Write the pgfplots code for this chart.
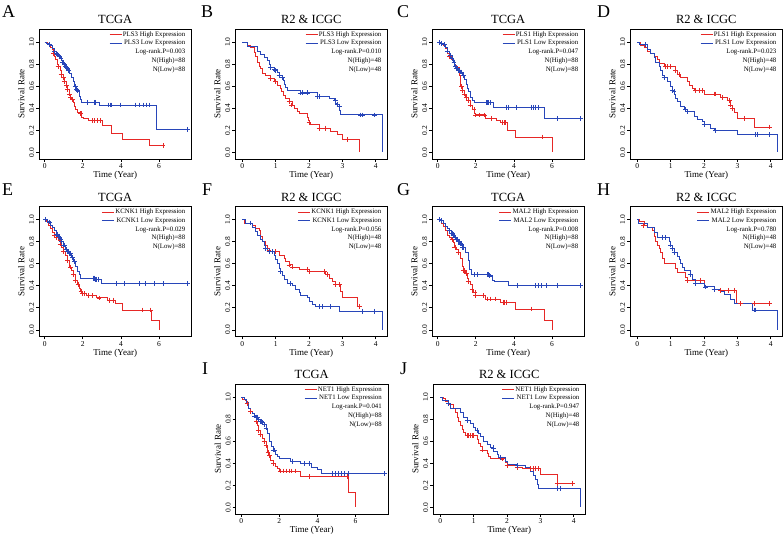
\documentclass[border=0pt]{standalone}
\usepackage{fontspec}
\setmainfont{Liberation Serif}
\usepackage{pgfplots}
\pgfplotsset{compat=1.18}
\definecolor{kmred}{RGB}{230,40,38}
\definecolor{kmblue}{RGB}{40,70,185}
\newcommand\fs[1]{\fontsize{#1}{#1}\selectfont}
\pgfplotsset{
 km/.style={
  scale only axis, width=152.5pt, height=130pt,
  ymin=-0.06, ymax=1.12,
  ytick={0,0.2,0.4,0.6,0.8,1.0},
  axis line style={line width=0.9pt, black},
  tick align=outside, xtick pos=bottom, ytick pos=left,
  major tick length=3pt, every tick/.style={line width=0.7pt, black},
  /pgf/number format/assume math mode=true,
  yticklabel style={rotate=90, anchor=south, font=\fs{7.5}, inner sep=1.5pt,
     /pgf/number format/fixed, /pgf/number format/fixed zerofill, /pgf/number format/precision=1},
  xticklabel style={font=\fs{7.5}, inner sep=1.5pt},
  xlabel={Time (Year)}, ylabel={Survival Rate},
  xlabel style={font=\fs{9}, inner sep=1pt},
  ylabel style={font=\fs{9}, inner sep=1pt},
  ylabel shift=2pt,
  title style={font=\fs{12.5}, inner sep=2.5pt, yshift=-3.5pt},
  legend cell align=right,
  legend style={at={(1,1)}, anchor=north east, xshift=-5pt, yshift=-1pt, draw=none, fill=none,
     font=\fs{6.8}, row sep=0pt, inner xsep=0pt, inner ysep=0pt,
     nodes={inner xsep=1pt, inner ysep=1.3pt}},
  legend image code/.code={\draw[#1, line width=0.9pt] (0pt,0pt) -- (12pt,0pt);},
  every axis plot/.append style={line width=0.9pt},
 },
 tcga/.style={km, xmin=-0.3, xmax=7.7, xtick={0,2,4,6}, title={TCGA}},
 r2/.style={km, xmin=-0.22, xmax=4.35, xtick={0,1,2,3,4}, title={R2 \& ICGC}},
 cens/.style={only marks, mark=+, mark size=2.4pt, forget plot, mark options={line width=0.75pt}},
}
\newcommand\kmstats[3]{%
 \addlegendimage{empty legend}\addlegendentry{Log-rank.P=#1}%
 \addlegendimage{empty legend}\addlegendentry{N(High)=#2}%
 \addlegendimage{empty legend}\addlegendentry{N(Low)=#3}}
\begin{document}
\begin{tikzpicture}
\path[use as bounding box] (0,0) rectangle (784pt,534pt);
% panel letters
\node[anchor=base west, inner sep=0, font=\fs{18}] at (2pt,516pt) {A};
\node[anchor=base west, inner sep=0, font=\fs{18}] at (201pt,516pt) {B};
\node[anchor=base west, inner sep=0, font=\fs{18}] at (397pt,516pt) {C};
\node[anchor=base west, inner sep=0, font=\fs{18}] at (597pt,516pt) {D};
\node[anchor=base west, inner sep=0, font=\fs{18}] at (2pt,338pt) {E};
\node[anchor=base west, inner sep=0, font=\fs{18}] at (202pt,338pt) {F};
\node[anchor=base west, inner sep=0, font=\fs{18}] at (397pt,338pt) {G};
\node[anchor=base west, inner sep=0, font=\fs{18}] at (597pt,338pt) {H};
\node[anchor=base west, inner sep=0, font=\fs{18}] at (202pt,159pt) {I};
\node[anchor=base west, inner sep=0, font=\fs{18}] at (400pt,159pt) {J};

% ---------- A ----------
\begin{axis}[tcga, at={(39pt,375pt)}, anchor=south west]
\addplot[kmred, const plot] coordinates {(0,1)(0.12,0.99)(0.22,0.977)(0.3,0.955)(0.38,0.93)(0.45,0.9)(0.5,0.87)(0.58,0.84)(0.65,0.8)(0.72,0.78)(0.8,0.74)(0.88,0.71)(0.97,0.68)(1.05,0.64)(1.12,0.61)(1.2,0.57)(1.28,0.53)(1.33,0.5)(1.42,0.48)(1.5,0.45)(1.56,0.42)(1.62,0.39)(1.7,0.36)(1.85,0.35)(1.95,0.32)(2.05,0.31)(2.3,0.29)(3.05,0.24)(3.5,0.17)(4.1,0.115)(5.5,0.06)(6.2,0.06)};
\addlegendentry{PLS3 High Expression}
\addplot[kmblue, const plot] coordinates {(0,1)(0.1,0.99)(0.2,0.98)(0.3,0.97)(0.4,0.94)(0.5,0.92)(0.6,0.9)(0.7,0.88)(0.8,0.86)(0.9,0.83)(1.0,0.81)(1.1,0.78)(1.2,0.76)(1.3,0.72)(1.4,0.68)(1.5,0.64)(1.55,0.6)(1.65,0.57)(1.72,0.55)(1.8,0.51)(1.88,0.48)(1.95,0.455)(2.85,0.43)(5.85,0.21)(7.5,0.21)};
\addlegendentry{PLS3 Low Expression}
\addplot[kmred, cens] coordinates {(0.46,0.9)(0.7,0.78)(0.85,0.71)(0.97,0.68)(1.02,0.64)(1.13,0.61)(1.19,0.57)(1.3,0.53)(1.36,0.5)(1.44,0.48)(1.86,0.35)(1.9,0.35)(2.5,0.29)(2.58,0.29)(2.76,0.29)(2.92,0.29)(6.2,0.06)};
\addplot[kmblue, cens] coordinates {(0.25,0.98)(0.5,0.92)(0.6,0.9)(0.65,0.89)(0.75,0.87)(0.85,0.85)(0.95,0.82)(1.05,0.8)(1.1,0.78)(1.15,0.77)(1.2,0.76)(1.25,0.74)(1.6,0.6)(1.65,0.57)(1.7,0.56)(2.25,0.455)(2.6,0.455)(2.65,0.455)(3.35,0.43)(3.42,0.43)(3.5,0.43)(3.95,0.43)(4.75,0.43)(4.95,0.43)(5.15,0.43)(5.35,0.43)(5.5,0.43)(7.5,0.21)};
\kmstats{0.003}{88}{88}
\end{axis}

% ---------- B ----------
\begin{axis}[r2, at={(235pt,375pt)}, anchor=south west]
\addplot[kmred, const plot] coordinates {(0,1)(0.15,0.97)(0.25,0.95)(0.35,0.91)(0.4,0.87)(0.45,0.82)(0.5,0.78)(0.55,0.76)(0.6,0.72)(0.7,0.7)(0.85,0.67)(0.95,0.64)(1.05,0.61)(1.13,0.58)(1.18,0.55)(1.22,0.52)(1.3,0.49)(1.4,0.46)(1.5,0.43)(1.55,0.4)(1.65,0.37)(1.7,0.35)(1.95,0.32)(1.98,0.29)(2.0,0.27)(2.05,0.25)(2.3,0.22)(2.65,0.19)(2.85,0.16)(3.0,0.12)(3.52,0)};
\addlegendentry{PLS3 High Expression}
\addplot[kmblue, const plot] coordinates {(0,1)(0.15,0.96)(0.45,0.92)(0.55,0.89)(0.65,0.86)(0.75,0.83)(0.8,0.8)(0.85,0.77)(0.95,0.75)(1.05,0.73)(1.1,0.7)(1.2,0.68)(1.23,0.65)(1.27,0.62)(1.3,0.59)(1.35,0.56)(1.75,0.54)(2.25,0.51)(2.6,0.49)(2.75,0.47)(2.8,0.44)(2.85,0.42)(2.9,0.38)(2.95,0.34)(4.2,0)};
\addlegendentry{PLS3 Low Expression}
\addplot[kmred, cens] coordinates {(0.85,0.67)(1.0,0.64)(1.4,0.46)(1.47,0.43)(2.0,0.27)(2.3,0.22)(2.5,0.22)(3.15,0.12)};
\addplot[kmblue, cens] coordinates {(0.85,0.77)(0.95,0.75)(1.0,0.74)(1.1,0.7)(1.2,0.68)(1.75,0.54)(1.8,0.54)(1.95,0.54)(2.25,0.51)(2.3,0.51)(2.8,0.47)(2.85,0.44)(2.9,0.42)(3.55,0.34)(3.6,0.34)(3.95,0.34)};
\kmstats{0.010}{48}{48}
\end{axis}

% ---------- C ----------
\begin{axis}[tcga, at={(432pt,375pt)}, anchor=south west]
\addplot[kmred, const plot] coordinates {(0,1)(0.1,0.99)(0.2,0.98)(0.3,0.97)(0.4,0.94)(0.5,0.9)(0.6,0.87)(0.7,0.84)(0.8,0.82)(0.9,0.79)(1.0,0.77)(1.15,0.7)(1.2,0.6)(1.3,0.56)(1.4,0.53)(1.47,0.5)(1.6,0.47)(1.7,0.43)(1.83,0.39)(1.92,0.35)(2.0,0.34)(2.5,0.31)(3.1,0.29)(3.3,0.27)(3.65,0.2)(4.1,0.14)(6.0,0)};
\addlegendentry{PLS1 High Expression}
\addplot[kmblue, const plot] coordinates {(0,1)(0.15,0.99)(0.3,0.98)(0.4,0.95)(0.5,0.92)(0.6,0.88)(0.7,0.85)(0.8,0.82)(0.9,0.78)(1.0,0.76)(1.1,0.74)(1.2,0.73)(1.3,0.7)(1.4,0.66)(1.5,0.62)(1.55,0.58)(1.6,0.55)(1.7,0.5)(1.8,0.47)(1.92,0.45)(2.9,0.41)(5.6,0.305)(7.5,0.305)};
\addlegendentry{PLS1 Low Expression}
\addplot[kmred, cens] coordinates {(0.6,0.87)(0.85,0.82)(1.25,0.6)(1.3,0.56)(1.4,0.53)(1.5,0.5)(1.6,0.47)(1.7,0.43)(1.9,0.39)(2.0,0.34)(2.2,0.34)(2.45,0.34)(2.8,0.31)(3.4,0.27)(3.5,0.27)(3.55,0.27)(5.5,0.14)};
\addplot[kmblue, cens] coordinates {(0.1,1)(0.2,0.99)(0.35,0.98)(0.5,0.92)(0.65,0.88)(0.75,0.85)(0.85,0.82)(0.95,0.78)(1.0,0.76)(1.05,0.76)(1.1,0.74)(1.15,0.74)(1.2,0.73)(1.25,0.73)(1.35,0.7)(2.55,0.45)(2.6,0.45)(2.65,0.45)(2.75,0.45)(3.6,0.41)(3.7,0.41)(4.1,0.41)(4.9,0.41)(5.0,0.41)(5.1,0.41)(5.3,0.41)(6.3,0.305)(7.5,0.305)};
\kmstats{0.047}{88}{88}
\end{axis}

% ---------- D ----------
\begin{axis}[r2, at={(630pt,375pt)}, anchor=south west]
\addplot[kmred, const plot] coordinates {(0,1)(0.1,0.97)(0.2,0.95)(0.3,0.92)(0.4,0.9)(0.5,0.87)(0.6,0.84)(0.65,0.81)(0.8,0.78)(1.15,0.74)(1.2,0.71)(1.3,0.68)(1.5,0.64)(1.55,0.61)(1.65,0.58)(1.7,0.56)(2.0,0.53)(2.5,0.5)(2.7,0.47)(2.8,0.43)(2.85,0.4)(2.9,0.36)(3.0,0.31)(3.5,0.23)(3.95,0.23)};
\addlegendentry{PLS1 High Expression}
\addplot[kmblue, const plot] coordinates {(0,1)(0.05,0.98)(0.3,0.93)(0.4,0.9)(0.5,0.86)(0.55,0.82)(0.65,0.78)(0.7,0.74)(0.75,0.7)(0.8,0.68)(0.9,0.64)(1.0,0.6)(1.05,0.56)(1.1,0.53)(1.15,0.49)(1.2,0.46)(1.3,0.42)(1.4,0.39)(1.5,0.37)(1.7,0.33)(1.8,0.3)(1.95,0.28)(2.0,0.25)(2.2,0.22)(2.3,0.2)(3.0,0.16)(4.2,0)};
\addlegendentry{PLS1 Low Expression}
\addplot[kmred, cens] coordinates {(0.85,0.78)(0.9,0.78)(1.0,0.78)(1.15,0.74)(1.25,0.71)(1.75,0.56)(1.85,0.56)(1.95,0.56)(2.3,0.53)(2.35,0.53)(2.55,0.5)(2.75,0.47)(2.8,0.43)(2.85,0.4)(3.2,0.31)(3.95,0.23)};
\addplot[kmblue, cens] coordinates {(0.25,0.98)(0.8,0.68)(1.05,0.56)(1.1,0.55)(1.45,0.39)(1.5,0.37)(2.0,0.25)(2.35,0.2)(3.55,0.16)(3.6,0.16)(3.95,0.16)};
\kmstats{0.023}{48}{48}
\end{axis}

% ---------- E ----------
\begin{axis}[tcga, at={(39pt,197.5pt)}, anchor=south west]
\addplot[kmred, const plot] coordinates {(0,1)(0.1,0.98)(0.2,0.95)(0.3,0.92)(0.4,0.88)(0.5,0.86)(0.6,0.84)(0.7,0.81)(0.8,0.78)(0.9,0.75)(1.0,0.71)(1.1,0.68)(1.2,0.63)(1.3,0.57)(1.4,0.54)(1.5,0.5)(1.6,0.45)(1.7,0.41)(1.8,0.38)(1.9,0.35)(2.0,0.33)(2.2,0.31)(2.7,0.29)(3.3,0.27)(3.7,0.24)(4.1,0.18)(5.6,0.09)(6.0,0)};
\addlegendentry{KCNK1 High Expression}
\addplot[kmblue, const plot] coordinates {(0,1)(0.15,0.98)(0.3,0.95)(0.4,0.93)(0.5,0.9)(0.6,0.87)(0.7,0.85)(0.8,0.82)(0.9,0.8)(1.0,0.77)(1.1,0.73)(1.2,0.71)(1.3,0.69)(1.4,0.66)(1.5,0.62)(1.6,0.58)(1.7,0.53)(1.8,0.5)(1.9,0.47)(2.6,0.46)(3.0,0.42)(7.5,0.42)};
\addlegendentry{KCNK1 Low Expression}
\addplot[kmred, cens] coordinates {(0.5,0.86)(0.6,0.84)(0.8,0.78)(1.0,0.71)(1.2,0.63)(1.35,0.57)(1.5,0.5)(1.6,0.45)(1.75,0.41)(1.9,0.35)(2.0,0.33)(2.1,0.33)(2.3,0.31)(2.5,0.31)(2.85,0.29)(3.4,0.27)(3.6,0.27)(5.1,0.18)(5.55,0.18)};
\addplot[kmblue, cens] coordinates {(0.05,1)(0.25,0.98)(0.6,0.87)(0.65,0.87)(0.7,0.85)(0.75,0.85)(0.85,0.82)(0.9,0.8)(1.0,0.77)(1.05,0.77)(1.15,0.73)(1.2,0.71)(1.25,0.71)(1.3,0.69)(1.35,0.69)(1.45,0.66)(1.55,0.62)(2.55,0.47)(2.6,0.47)(2.65,0.46)(2.7,0.46)(2.8,0.46)(3.75,0.42)(4.2,0.42)(4.95,0.42)(5.3,0.42)(5.75,0.42)(6.25,0.42)(7.5,0.42)};
\kmstats{0.029}{88}{88}
\end{axis}

% ---------- F ----------
\begin{axis}[r2, at={(235pt,197.5pt)}, anchor=south west]
\addplot[kmred, const plot] coordinates {(0,1)(0.07,0.97)(0.3,0.95)(0.4,0.92)(0.5,0.9)(0.55,0.85)(0.6,0.8)(0.7,0.77)(0.75,0.74)(0.8,0.72)(0.85,0.71)(1.1,0.68)(1.25,0.65)(1.3,0.62)(1.4,0.59)(1.5,0.57)(1.7,0.55)(2.0,0.53)(2.5,0.5)(2.6,0.47)(2.7,0.44)(2.8,0.41)(2.95,0.35)(3.0,0.29)(3.45,0.21)(3.53,0.21)};
\addlegendentry{KCNK1 High Expression}
\addplot[kmblue, const plot] coordinates {(0,1)(0.1,0.97)(0.3,0.93)(0.4,0.89)(0.45,0.86)(0.55,0.82)(0.6,0.8)(0.65,0.77)(0.7,0.74)(0.75,0.71)(0.95,0.68)(1.0,0.64)(1.05,0.6)(1.1,0.56)(1.15,0.53)(1.2,0.49)(1.25,0.46)(1.35,0.42)(1.5,0.4)(1.6,0.37)(1.7,0.34)(1.75,0.31)(1.95,0.29)(2.0,0.26)(2.1,0.23)(2.2,0.21)(2.9,0.17)(4.2,0)};
\addlegendentry{KCNK1 Low Expression}
\addplot[kmred, cens] coordinates {(0.8,0.72)(0.9,0.71)(1.0,0.71)(1.4,0.59)(1.5,0.57)(1.95,0.55)(2.0,0.53)(2.45,0.53)(2.55,0.5)(2.8,0.41)(2.9,0.41)(3.5,0.21)};
\addplot[kmblue, cens] coordinates {(0.25,0.97)(0.7,0.74)(0.8,0.71)(0.9,0.71)(1.15,0.53)(1.45,0.42)(2.3,0.21)(2.4,0.21)(2.65,0.21)(3.6,0.17)(3.95,0.17)};
\kmstats{0.056}{48}{48}
\end{axis}

% ---------- G ----------
\begin{axis}[tcga, at={(432pt,197.5pt)}, anchor=south west]
\addplot[kmred, const plot] coordinates {(0,1)(0.1,0.99)(0.2,0.97)(0.3,0.94)(0.4,0.9)(0.5,0.86)(0.6,0.84)(0.7,0.82)(0.8,0.79)(0.9,0.75)(1.0,0.73)(1.1,0.7)(1.2,0.65)(1.3,0.58)(1.35,0.54)(1.45,0.51)(1.55,0.47)(1.6,0.44)(1.7,0.41)(1.8,0.37)(1.9,0.34)(2.0,0.31)(2.5,0.28)(3.3,0.25)(4.1,0.19)(5.6,0.09)(6.0,0)};
\addlegendentry{MAL2 High Expression}
\addplot[kmblue, const plot] coordinates {(0,1)(0.15,0.99)(0.3,0.97)(0.4,0.94)(0.5,0.92)(0.6,0.9)(0.7,0.88)(0.8,0.86)(0.9,0.84)(1.0,0.82)(1.1,0.8)(1.2,0.78)(1.3,0.75)(1.45,0.7)(1.6,0.63)(1.68,0.55)(1.75,0.5)(2.7,0.49)(2.85,0.45)(3.0,0.44)(3.7,0.4)(7.5,0.4)};
\addlegendentry{MAL2 Low Expression}
\addplot[kmred, cens] coordinates {(0.75,0.82)(0.9,0.75)(1.1,0.7)(1.35,0.54)(1.4,0.54)(1.5,0.51)(1.6,0.44)(1.8,0.37)(1.95,0.34)(2.0,0.31)(2.4,0.31)(2.6,0.28)(2.75,0.28)(3.0,0.28)(3.45,0.25)(3.5,0.25)(3.6,0.25)(4.9,0.19)};
\addplot[kmblue, cens] coordinates {(0.1,1)(0.2,0.99)(0.6,0.9)(0.7,0.88)(0.75,0.88)(0.8,0.86)(0.85,0.86)(0.9,0.84)(1.0,0.82)(1.05,0.82)(1.1,0.8)(1.15,0.8)(1.2,0.78)(1.25,0.78)(1.3,0.75)(1.35,0.75)(1.9,0.5)(2.1,0.5)(2.6,0.5)(2.65,0.5)(2.7,0.49)(4.2,0.4)(5.1,0.4)(5.3,0.4)(5.45,0.4)(5.7,0.4)(6.3,0.4)(7.5,0.4)};
\kmstats{0.008}{88}{88}
\end{axis}

% ---------- H ----------
\begin{axis}[r2, at={(630pt,197.5pt)}, anchor=south west]
\addplot[kmred, const plot] coordinates {(0,1)(0.05,0.98)(0.2,0.95)(0.3,0.93)(0.45,0.9)(0.5,0.85)(0.55,0.8)(0.6,0.77)(0.65,0.74)(0.7,0.7)(0.75,0.65)(0.8,0.6)(1.15,0.56)(1.2,0.52)(1.45,0.48)(1.5,0.45)(2.0,0.39)(2.3,0.37)(2.45,0.36)(2.98,0.24)(3.95,0.24)};
\addlegendentry{MAL2 High Expression}
\addplot[kmblue, const plot] coordinates {(0,1)(0.02,0.97)(0.3,0.93)(0.5,0.88)(0.6,0.84)(0.95,0.8)(1.0,0.77)(1.05,0.74)(1.1,0.7)(1.2,0.67)(1.25,0.64)(1.3,0.6)(1.35,0.57)(1.4,0.54)(1.6,0.5)(1.65,0.46)(1.75,0.42)(2.0,0.39)(2.3,0.37)(2.5,0.35)(2.6,0.32)(2.8,0.28)(2.9,0.24)(3.45,0.18)(4.2,0)};
\addlegendentry{MAL2 Low Expression}
\addplot[kmred, cens] coordinates {(0.18,0.95)(1.5,0.45)(1.9,0.45)(2.3,0.37)(2.5,0.36)(2.73,0.36)(2.9,0.36)(3.1,0.24)(3.52,0.24)(3.95,0.24)};
\addplot[kmblue, cens] coordinates {(0.75,0.84)(0.85,0.84)(1.0,0.77)(1.05,0.74)(1.1,0.7)(1.6,0.5)(1.75,0.42)(2.05,0.39)(2.3,0.37)(3.5,0.18)(3.55,0.18)};
\kmstats{0.780}{48}{48}
\end{axis}

% ---------- I ----------
\begin{axis}[tcga, at={(235.5pt,20pt)}, anchor=south west]
\addplot[kmred, const plot] coordinates {(0,1)(0.05,0.98)(0.2,0.97)(0.3,0.94)(0.4,0.9)(0.5,0.87)(0.6,0.85)(0.7,0.82)(0.8,0.78)(0.85,0.74)(0.9,0.7)(1.0,0.66)(1.1,0.63)(1.2,0.6)(1.3,0.56)(1.35,0.5)(1.45,0.47)(1.55,0.43)(1.7,0.4)(1.8,0.37)(1.9,0.35)(2.0,0.33)(3.1,0.28)(5.6,0.14)(6.0,0)};
\addlegendentry{NET1 High Expression}
\addplot[kmblue, const plot] coordinates {(0,1)(0.15,0.98)(0.3,0.95)(0.4,0.9)(0.5,0.87)(0.6,0.85)(0.7,0.83)(0.8,0.82)(0.9,0.8)(1.0,0.78)(1.1,0.77)(1.2,0.75)(1.3,0.72)(1.4,0.67)(1.5,0.6)(1.6,0.55)(1.7,0.52)(1.8,0.48)(1.9,0.46)(2.0,0.44)(2.6,0.42)(3.1,0.4)(3.7,0.36)(4.0,0.34)(4.2,0.31)(7.5,0.31)};
\addlegendentry{NET1 Low Expression}
\addplot[kmred, cens] coordinates {(0.3,0.94)(0.5,0.87)(0.8,0.78)(0.9,0.7)(1.0,0.66)(1.2,0.6)(1.3,0.56)(1.4,0.5)(1.5,0.47)(1.7,0.4)(2.05,0.33)(2.2,0.33)(2.35,0.33)(2.5,0.33)(2.65,0.33)(2.85,0.33)(3.6,0.28)(5.55,0.28)};
\addplot[kmblue, cens] coordinates {(0.7,0.83)(0.8,0.82)(0.85,0.82)(0.9,0.8)(1.0,0.78)(1.05,0.78)(1.1,0.77)(1.2,0.75)(1.3,0.72)(1.7,0.52)(1.75,0.52)(2.7,0.42)(3.3,0.4)(3.6,0.4)(4.8,0.31)(4.95,0.31)(5.1,0.31)(5.25,0.31)(5.4,0.31)(5.6,0.31)(7.5,0.31)};
\kmstats{0.041}{88}{88}
\end{axis}

% ---------- J ----------
\begin{axis}[r2, at={(433pt,20pt)}, anchor=south west]
\addplot[kmred, const plot] coordinates {(0,1)(0.1,0.99)(0.15,0.96)(0.25,0.93)(0.4,0.9)(0.45,0.86)(0.5,0.82)(0.55,0.78)(0.6,0.74)(0.65,0.71)(0.7,0.68)(0.75,0.65)(1.1,0.62)(1.15,0.58)(1.2,0.55)(1.25,0.52)(1.4,0.49)(1.45,0.46)(1.5,0.44)(1.95,0.41)(2.0,0.38)(2.3,0.36)(2.45,0.35)(3.0,0.3)(3.5,0.22)(3.95,0.22)};
\addlegendentry{NET1 High Expression}
\addplot[kmblue, const plot] coordinates {(0,1)(0.05,0.97)(0.25,0.94)(0.3,0.9)(0.6,0.86)(0.7,0.82)(0.8,0.79)(0.9,0.76)(1.0,0.73)(1.05,0.7)(1.15,0.67)(1.2,0.64)(1.3,0.6)(1.4,0.57)(1.5,0.54)(1.6,0.51)(1.7,0.48)(1.75,0.45)(1.95,0.42)(2.0,0.39)(2.3,0.38)(2.55,0.36)(2.7,0.33)(2.8,0.29)(2.85,0.25)(2.9,0.21)(2.95,0.17)(4.2,0)};
\addlegendentry{NET1 Low Expression}
\addplot[kmred, cens] coordinates {(0.8,0.65)(0.85,0.65)(0.9,0.65)(0.95,0.65)(1.0,0.65)(1.25,0.52)(1.85,0.44)(2.0,0.38)(2.3,0.36)(2.7,0.35)(2.8,0.35)(2.85,0.35)(2.95,0.35)(3.5,0.22)(3.95,0.22)};
\addplot[kmblue, cens] coordinates {(0.25,0.94)(0.8,0.79)(1.1,0.7)(1.6,0.54)(1.8,0.45)(2.3,0.38)(3.5,0.17)(3.6,0.17)};
\kmstats{0.947}{48}{48}
\end{axis}
\end{tikzpicture}
\end{document}
